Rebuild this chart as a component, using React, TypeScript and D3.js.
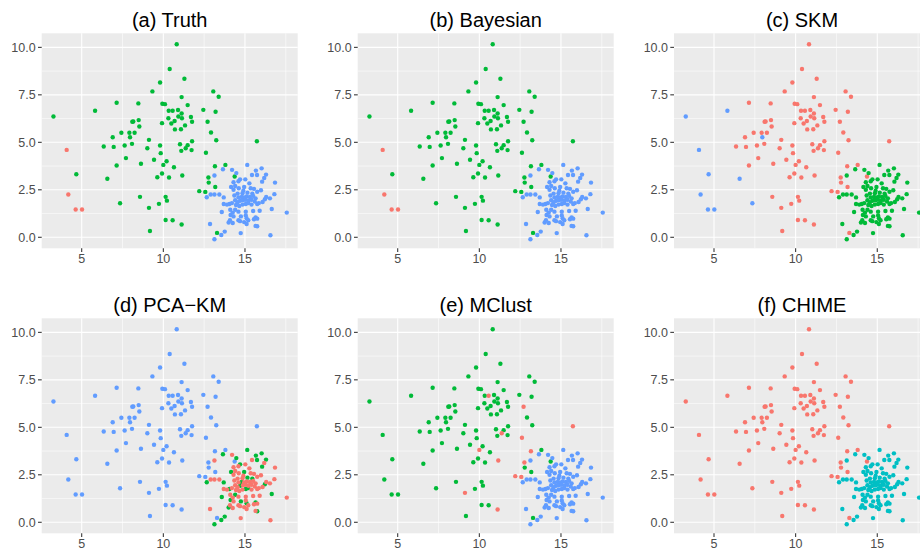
import React from 'react';
import * as d3 from 'd3';

// ---------- data ----------
// Points grouped by how the six methods label them.
const leftRedX = [4.08, 4.18, 4.63, 5.02];
const leftRedY = [4.60, 2.25, 1.46, 1.46];

const leftExtraX = [3.27, 4.67, 5.82, 6.57, 7.35, 7.96];
const leftExtraY = [6.36, 3.32, 6.66, 3.08, 1.79, 5.27];

const mainGreenX = [
  6.35, 6.90, 6.96, 7.14, 7.14, 7.43, 7.63, 7.71, 7.92, 8.10, 8.16, 8.08, 8.24, 8.47, 8.49,
  8.53, 8.57, 8.63, 9.02, 9.12, 9.18, 9.33, 9.43, 9.63, 9.73, 9.80, 9.80, 9.84, 9.92, 9.92,
  9.94, 10.10, 10.14, 10.20, 10.22, 10.14, 10.31, 10.35, 10.33, 10.39, 10.49, 10.57, 10.65,
  10.69, 10.71, 10.82, 10.90, 10.92, 11.02, 11.08, 11.10, 11.12, 11.12, 11.14, 11.29, 11.33,
  11.49, 11.49, 11.69, 11.73, 11.76, 11.76, 12.45, 12.78, 12.92, 13.06, 13.18, 13.20, 13.24,
  13.29, 13.39, 13.80, 14.37,
];
const mainGreenY = [
  4.78, 5.27, 4.76, 7.08, 3.78, 5.50, 4.83, 4.17, 5.50, 6.08, 6.10, 4.92, 5.50, 7.05, 6.17,
  5.83, 2.13, 3.87, 4.69, 5.13, 0.33, 7.68, 4.08, 3.16, 1.76, 8.15, 4.83, 4.43, 6.01, 3.36,
  7.03, 7.01, 2.13, 4.00, 1.93, 0.91, 6.27, 3.15, 6.66, 8.86, 5.99, 0.90, 3.69,
  6.12, 5.68, 10.16, 6.70, 6.36, 4.90, 5.69, 4.55, 7.38, 6.52, 6.27, 8.35, 5.89,
  4.85, 6.96, 6.33, 4.59, 6.08, 5.06, 6.71, 2.88, 5.52, 7.68, 2.65, 6.61, 5.11,
  0.23, 7.40, 3.81, 3.20,
];

const mcRedX = [10.57, 12.71, 11.37, 12.61, 10.00, 13.16, 11.16, 12.76, 12.20, 12.57, 9.12, 11.12, 15.73];
const mcRedY = [6.66, 6.08, 4.69, 4.45, 3.81, 3.74, 3.25, 3.15, 2.43, 2.39, 1.55, 0.67, 5.06];

const blueGX = [
  15.14, 16.02, 13.65, 15.67, 15.74, 16.29, 14.47, 14.70, 16.05, 14.15, 14.95, 15.15, 15.45,
  12.66, 13.70, 14.80, 16.22, 14.05, 14.70, 15.05, 15.20, 14.40, 16.64, 13.58, 14.12, 14.75,
  15.10, 14.00, 15.65, 15.75, 13.76, 13.55, 13.13,
];
const blueGY = [
  3.81, 3.63, 3.58, 3.51, 3.28, 3.30, 3.38, 3.05, 2.93, 2.65, 2.65, 2.35, 2.30,
  2.11, 2.10, 2.12, 2.00, 1.75, 1.92, 1.75, 1.80, 1.45, 1.49, 1.33, 1.17, 1.10,
  1.00, 0.78, 1.05, 0.58, 0.30, 0.12, -0.10,
];

const blueRX = [
  14.21, 15.43, 16.18, 13.13, 16.84, 15.27, 15.02, 14.60, 14.30, 14.40, 14.62, 14.30, 15.55,
  15.98, 12.90, 13.13, 13.43, 14.35, 14.55, 14.85, 15.75, 16.80, 16.53, 16.30, 16.08, 14.60,
  14.95, 15.10, 15.30, 15.50, 15.65, 14.40, 14.55, 14.88, 15.05, 15.22, 15.40, 15.60, 15.85,
  14.20, 13.70, 13.90, 14.45, 14.65, 14.85, 15.40, 15.75, 17.56, 14.10, 14.25, 14.60, 15.05,
  15.50, 15.90, 14.30, 15.05, 15.75, 14.08, 14.60, 14.95, 15.20, 15.55, 12.86, 14.25, 14.70,
  15.10, 15.65, 14.74, 16.56, 15.35, 14.90,
];
const blueRY = [
  3.55, 3.28, 3.12, 3.25, 2.88, 2.84, 3.05, 2.95, 2.90, 2.70, 2.58, 2.50, 2.55,
  2.48, 2.25, 2.25, 2.25, 2.20, 2.30, 2.32, 2.40, 2.27, 2.05, 2.12, 1.86, 2.10,
  2.10, 2.15, 2.12, 2.18, 2.05, 1.95, 1.85, 1.95, 1.97, 1.92, 1.98, 1.88, 1.80,
  1.80, 1.75, 1.72, 1.70, 1.65, 1.72, 1.72, 1.75, 1.30, 1.45, 1.30, 1.35, 1.35,
  1.38, 1.40, 1.10, 1.15, 0.98, 0.90, 0.90, 0.80, 0.90, 0.95, 0.70, 0.75, 0.85,
  0.70, 0.60, 0.22, 0.11, 2.58, 2.45,
];

const panelTitles = ['(a) Truth', '(b) Bayesian', '(c) SKM', '(d) PCA\u2212KM', '(e) MClust', '(f) CHIME'];

// label of each group in each panel (a..f)
const labelsLeftRed = ['R', 'R', 'B', 'B', 'G', 'R'];
const labelsLeftExtra = ['G', 'G', 'B', 'B', 'G', 'R'];
const labelsMainGreen = ['G', 'G', 'R', 'B', 'G', 'R'];
const labelsMcRed = ['G', 'G', 'R', 'B', 'R', 'R'];
const labelsBlueG = ['B', 'B', 'G', 'G', 'B', 'C'];
const labelsBlueR = ['B', 'B', 'G', 'R', 'B', 'C'];

const xTicks = [5, 10, 15];
const yTicks = [0, 2.5, 5, 7.5, 10];
const yTickLabels = ['0.0', '2.5', '5.0', '7.5', '10.0'];
const xMinor = [7.5, 12.5, 17.5];
const yMinor = [1.25, 3.75, 6.25, 8.75];

const palette: Record<string, string> = { R: '#F8766D', G: '#00BA38', B: '#619CFF', C: '#00BFC4' };

const groups = [
  { xs: leftRedX, ys: leftRedY, labels: labelsLeftRed },
  { xs: leftExtraX, ys: leftExtraY, labels: labelsLeftExtra },
  { xs: mainGreenX, ys: mainGreenY, labels: labelsMainGreen },
  { xs: mcRedX, ys: mcRedY, labels: labelsMcRed },
  { xs: blueGX, ys: blueGY, labels: labelsBlueG },
  { xs: blueRX, ys: blueRY, labels: labelsBlueR },
];

// ---------- layout ----------
const W = 920;
const H = 552;
const panelW = 256;
const panelH = 215;
const colLeft = [41.7, 357.7, 674];
const rowTop = [33.3, 318.3];
const FONT = '"Liberation Sans", Arial, Helvetica, sans-serif';

function Panel({ idx }: { idx: number }) {
  const col = idx % 3;
  const row = Math.floor(idx / 3);
  const L = colLeft[col];
  const T = rowTop[row];
  const x = d3.scaleLinear().domain([2.55, 18.23]).range([L, L + panelW]);
  const y = d3.scaleLinear().domain([-0.58, 10.74]).range([T + panelH, T]);

  const pts: { px: number; py: number; c: string }[] = [];
  groups.forEach((g) => {
    g.xs.forEach((xv, i) => {
      pts.push({ px: x(xv), py: y(g.ys[i]), c: palette[g.labels[idx]] });
    });
  });

  return (
    <g>
      <rect x={L} y={T} width={panelW} height={panelH} fill="#EBEBEB" />
      {xMinor.map((v) => (
        <line key={'xm' + v} x1={x(v)} x2={x(v)} y1={T} y2={T + panelH} stroke="#fff" strokeWidth={0.55} />
      ))}
      {yMinor.map((v) => (
        <line key={'ym' + v} x1={L} x2={L + panelW} y1={y(v)} y2={y(v)} stroke="#fff" strokeWidth={0.55} />
      ))}
      {xTicks.map((v) => (
        <line key={'xM' + v} x1={x(v)} x2={x(v)} y1={T} y2={T + panelH} stroke="#fff" strokeWidth={1.1} />
      ))}
      {yTicks.map((v) => (
        <line key={'yM' + v} x1={L} x2={L + panelW} y1={y(v)} y2={y(v)} stroke="#fff" strokeWidth={1.1} />
      ))}
      {pts.map((p, i) => (
        <circle key={i} cx={p.px} cy={p.py} r={2.2} fill={p.c} />
      ))}
      {xTicks.map((v) => (
        <g key={'xt' + v}>
          <line x1={x(v)} x2={x(v)} y1={T + panelH} y2={T + panelH + 3.7} stroke="#333" strokeWidth={1.07} />
          <text x={x(v)} y={T + panelH + 14.8} textAnchor="middle" fontSize={12.5} fill="#4D4D4D" fontFamily={FONT}>
            {v}
          </text>
        </g>
      ))}
      {yTicks.map((v, i) => (
        <g key={'yt' + v}>
          <line x1={L - 3.7} x2={L} y1={y(v)} y2={y(v)} stroke="#333" strokeWidth={1.07} />
          <text x={L - 6} y={y(v)} dy="0.36em" textAnchor="end" fontSize={12.5} fill="#4D4D4D" fontFamily={FONT}>
            {yTickLabels[i]}
          </text>
        </g>
      ))}
      <text x={L + panelW / 2} y={T - 6.8} textAnchor="middle" fontSize={20} fill="#000" fontFamily={FONT}>
        {panelTitles[idx]}
      </text>
    </g>
  );
}

export default function App() {
  return (
    <svg
      width={W}
      height={H}
      viewBox={`0 0 ${W} ${H}`}
      style={{ position: 'absolute', left: 0, top: 0, background: '#fff', overflow: 'hidden' }}
    >
      <rect x={0} y={0} width={W} height={H} fill="#fff" />
      {panelTitles.map((_, i) => (
        <Panel key={i} idx={i} />
      ))}
    </svg>
  );
}
